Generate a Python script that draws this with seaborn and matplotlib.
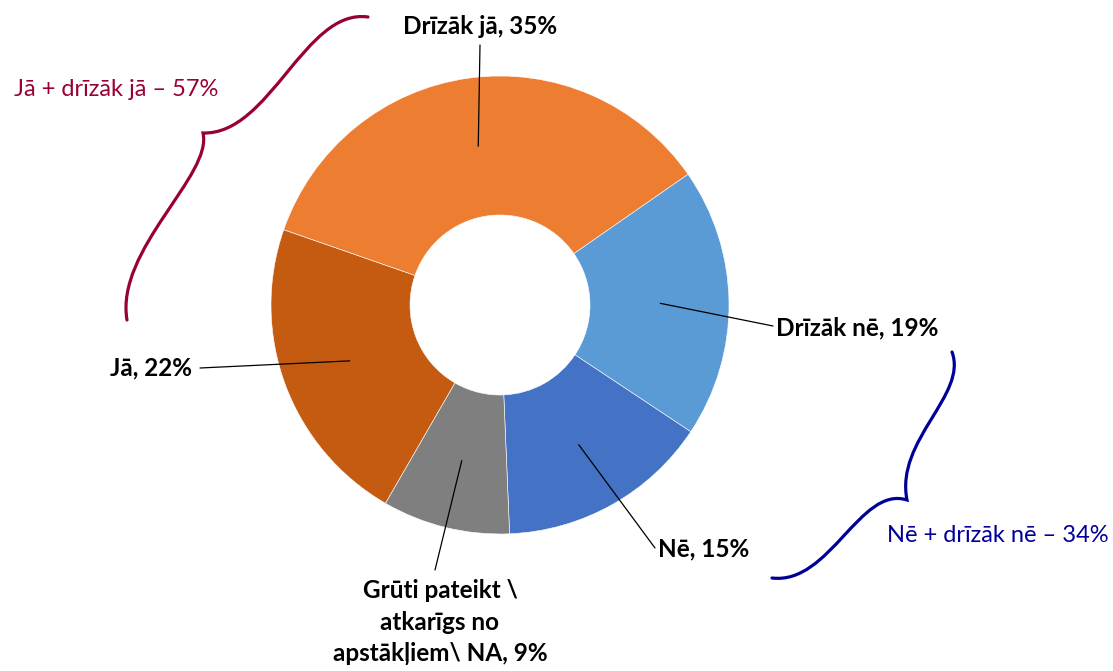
import numpy as np
import matplotlib
matplotlib.use('Agg')
import matplotlib.pyplot as plt
import seaborn as sns
from matplotlib.path import Path
from matplotlib.patches import PathPatch

# Data
labels = ['Jā', 'Drīzāk jā', 'Drīzāk nē', 'Nē',
          'Grūti pateikt \\\natkarīgs no\napstākļiem\\ NA']
values = [22, 35, 19, 15, 9]
colors = ['#C55A11', '#ED7D31', '#5B9BD5', '#4472C4', '#7F7F7F']
group_texts = ['Jā + drīzāk jā – 57%', 'Nē + drīzāk nē – 34%']
group_colors = ['#990033', '#000099']

W, H = 1113, 671
sns.set_theme(style='white')
plt.rcParams['font.family'] = ['Lato', 'DejaVu Sans']


def px(x, y):
    # pixel position (origin top-left) -> data coords
    return x, H - y


fig = plt.figure(figsize=(W / 100, H / 100), dpi=100)
ax = fig.add_axes([0, 0, 1, 1])

cx, cy = px(500, 305)
R = 229
wedges, _ = ax.pie(values, colors=colors, startangle=240, counterclock=False,
                   radius=R, center=(cx, cy),
                   wedgeprops=dict(width=139, edgecolor='white', linewidth=0.4))
ax.set_xlim(0, W)
ax.set_ylim(0, H)
ax.set_aspect('equal')
ax.axis('off')

# label layout: end of leader line and text anchor (pixels)
label_layout = [
    ((200, 368), (192, 368), 'right', 'center'),
    ((480, 45), (480, 27), 'center', 'center'),
    ((773, 326), (776, 328), 'left', 'center'),
    ((655, 548), (658, 549), 'left', 'center'),
    ((435, 570), (440, 579), 'center', 'top'),
]

for w, lab, val, (lend, tpos, ha, va) in zip(wedges, labels, values, label_layout):
    mid = np.deg2rad((w.theta1 + w.theta2) / 2)
    ax0 = cx + 0.70 * R * np.cos(mid)
    ay0 = cy + 0.70 * R * np.sin(mid)
    ex, ey = px(*lend)
    ax.plot([ax0, ex], [ay0, ey], color='black', lw=0.9)
    tx, ty = px(*tpos)
    ax.text(tx, ty, f'{lab}, {val}%', ha=ha, va=va, fontsize=17.5,
            fontweight='bold', color='black', linespacing=1.45)


def brace(p_top, c1, c2, tip, c3, c4, p_bot, color):
    pts = [px(*p) for p in (p_top, c1, c2, tip, c3, c4, p_bot)]
    codes = [Path.MOVETO, Path.CURVE4, Path.CURVE4, Path.CURVE4,
             Path.CURVE4, Path.CURVE4, Path.CURVE4]
    ax.add_patch(PathPatch(Path(pts, codes), fill=False, edgecolor=color,
                           lw=2.3, capstyle='round'))


brace((368, 17), (305, 8), (270, 135), (203, 133),
      (213, 175), (115, 250), (127, 320), group_colors[0])
brace((952, 352), (968, 395), (895, 440), (907, 500),
      (860, 485), (830, 585), (772, 578), group_colors[1])

ax.text(*px(116, 90), group_texts[0], ha='center', va='center', fontsize=17,
        color=group_colors[0])
ax.text(*px(998, 535), group_texts[1], ha='center', va='center', fontsize=17,
        color=group_colors[1])

fig.savefig('out.png', dpi=100)
